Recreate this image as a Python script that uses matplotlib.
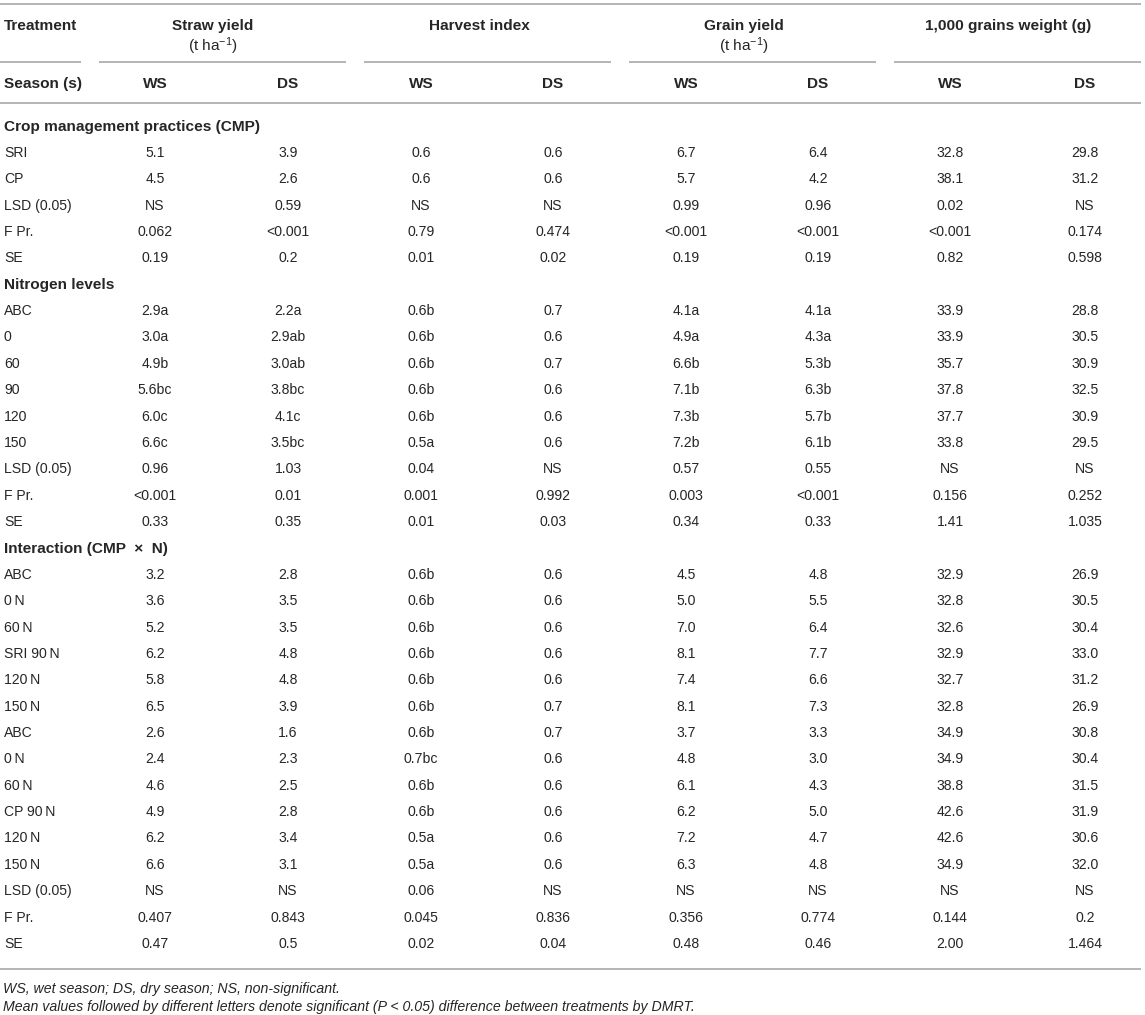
import matplotlib
matplotlib.use("Agg")
import matplotlib.pyplot as plt

plt.rcParams['font.family'] = ['Liberation Sans', 'DejaVu Sans']
plt.rcParams['mathtext.fontset'] = 'custom'
plt.rcParams['mathtext.rm'] = 'Liberation Sans'
plt.rcParams['mathtext.it'] = 'Liberation Sans:italic'
plt.rcParams['mathtext.bf'] = 'Liberation Sans:bold'

TS = "\u2009"

groups = ["Straw yield", "Harvest index", "Grain yield", "1,000 grains weight (g)"]
group_units = [r"(t ha$^{-1}$)", "", r"(t ha$^{-1}$)", ""]
seasons = ["WS", "DS"]

sections = ["Crop management practices (CMP)", "Nitrogen levels", "Interaction (CMP  \u00d7  N)"]

labels_cmp = ["SRI", "CP", "LSD (0.05)", "F Pr.", "SE"]
labels_n = ["ABC", "0", "60", "90", "120", "150", "LSD (0.05)", "F Pr.", "SE"]
labels_int = ["ABC", "0" + TS + "N", "60" + TS + "N", "SRI 90" + TS + "N", "120" + TS + "N", "150" + TS + "N",
              "ABC", "0" + TS + "N", "60" + TS + "N", "CP 90" + TS + "N", "120" + TS + "N", "150" + TS + "N",
              "LSD (0.05)", "F Pr.", "SE"]

straw_ws = ["5.1", "4.5", "NS", "0.062", "0.19",
            "2.9a", "3.0a", "4.9b", "5.6bc", "6.0c", "6.6c", "0.96", "<0.001", "0.33",
            "3.2", "3.6", "5.2", "6.2", "5.8", "6.5", "2.6", "2.4", "4.6", "4.9", "6.2", "6.6", "NS", "0.407", "0.47"]
straw_ds = ["3.9", "2.6", "0.59", "<0.001", "0.2",
            "2.2a", "2.9ab", "3.0ab", "3.8bc", "4.1c", "3.5bc", "1.03", "0.01", "0.35",
            "2.8", "3.5", "3.5", "4.8", "4.8", "3.9", "1.6", "2.3", "2.5", "2.8", "3.4", "3.1", "NS", "0.843", "0.5"]
hi_ws = ["0.6", "0.6", "NS", "0.79", "0.01",
         "0.6b", "0.6b", "0.6b", "0.6b", "0.6b", "0.5a", "0.04", "0.001", "0.01",
         "0.6b", "0.6b", "0.6b", "0.6b", "0.6b", "0.6b", "0.6b", "0.7bc", "0.6b", "0.6b", "0.5a", "0.5a", "0.06", "0.045", "0.02"]
hi_ds = ["0.6", "0.6", "NS", "0.474", "0.02",
         "0.7", "0.6", "0.7", "0.6", "0.6", "0.6", "NS", "0.992", "0.03",
         "0.6", "0.6", "0.6", "0.6", "0.6", "0.7", "0.7", "0.6", "0.6", "0.6", "0.6", "0.6", "NS", "0.836", "0.04"]
grain_ws = ["6.7", "5.7", "0.99", "<0.001", "0.19",
            "4.1a", "4.9a", "6.6b", "7.1b", "7.3b", "7.2b", "0.57", "0.003", "0.34",
            "4.5", "5.0", "7.0", "8.1", "7.4", "8.1", "3.7", "4.8", "6.1", "6.2", "7.2", "6.3", "NS", "0.356", "0.48"]
grain_ds = ["6.4", "4.2", "0.96", "<0.001", "0.19",
            "4.1a", "4.3a", "5.3b", "6.3b", "5.7b", "6.1b", "0.55", "<0.001", "0.33",
            "4.8", "5.5", "6.4", "7.7", "6.6", "7.3", "3.3", "3.0", "4.3", "5.0", "4.7", "4.8", "NS", "0.774", "0.46"]
tgw_ws = ["32.8", "38.1", "0.02", "<0.001", "0.82",
          "33.9", "33.9", "35.7", "37.8", "37.7", "33.8", "NS", "0.156", "1.41",
          "32.9", "32.8", "32.6", "32.9", "32.7", "32.8", "34.9", "34.9", "38.8", "42.6", "42.6", "34.9", "NS", "0.144", "2.00"]
tgw_ds = ["29.8", "31.2", "NS", "0.174", "0.598",
          "28.8", "30.5", "30.9", "32.5", "30.9", "29.5", "NS", "0.252", "1.035",
          "26.9", "30.5", "30.4", "33.0", "31.2", "26.9", "30.8", "30.4", "31.5", "31.9", "30.6", "32.0", "NS", "0.2", "1.464"]

footnotes = ["WS, wet season; DS, dry season; NS, non-significant.",
             "Mean values followed by different letters denote significant (P < 0.05) difference between treatments by DMRT."]

# ---------------- layout ----------------
W, H = 1145, 1015
fig = plt.figure(figsize=(W / 100, H / 100), dpi=100)
ax = fig.add_axes([0, 0, 1, 1])
ax.set_xlim(0, W)
ax.set_ylim(H, 0)
ax.axis("off")

TXT = "#262626"
LINE = "#b4b4b4"
FS = 10.1     # body text
FSB = 11.1    # bold headers
FSF = 10.15   # footnotes
off = 5.0     # baseline offset from visual centre
offb = 5.5

col_x = [155, 288, 421, 553, 686, 818, 950, 1085]
group_x = [213, 479, 744, 1008]
seg = [(0, 81), (99, 346), (364, 611), (629, 876), (894, 1141)]

def line(x0, x1, y):
    ax.plot([x0, x1], [y, y], color=LINE, lw=1.4, solid_capstyle="butt")

line(0, 1141, 4)
for a, b in seg:
    line(a, b, 62)
line(0, 1141, 103)
line(0, 1141, 969)

ax.text(4, 24 + offb, "Treatment", fontsize=FSB, fontweight="bold", color=TXT, va="baseline", ha="left")
for gx, g, u in zip(group_x, groups, group_units):
    ax.text(gx, 24 + offb, g, fontsize=FSB, fontweight="bold", color=TXT, va="baseline", ha="center")
    if u:
        ax.text(gx, 45 + offb, u, fontsize=FSB, color=TXT, va="baseline", ha="center")
ax.text(4, 82 + offb, "Season (s)", fontsize=FSB, fontweight="bold", color=TXT, va="baseline", ha="left")
for i, cx in enumerate(col_x):
    ax.text(cx, 82 + offb, seasons[i % 2], fontsize=FSB, fontweight="bold", color=TXT, va="baseline", ha="center")

columns = [straw_ws, straw_ds, hi_ws, hi_ds, grain_ws, grain_ds, tgw_ws, tgw_ds]
y0 = 125.5
step = 26.37
row = 0
k = 0
for sec, labs in zip(sections, [labels_cmp, labels_n, labels_int]):
    y = y0 + row * step
    ax.text(4, y + offb, sec, fontsize=FSB, fontweight="bold", color=TXT, va="baseline", ha="left")
    row += 1
    for lab in labs:
        y = y0 + row * step
        ax.text(4, y + off, lab, fontsize=FS, color=TXT, va="baseline", ha="left")
        for cx, col in zip(col_x, columns):
            ax.text(cx, y + off, col[k], fontsize=FS, color=TXT, va="baseline", ha="center")
        row += 1
        k += 1

for fy, ft in zip([988, 1006], footnotes):
    ax.text(3, fy + off, ft, fontsize=FSF, style="italic", color=TXT, va="baseline", ha="left")

fig.savefig("out.png", dpi=100)
